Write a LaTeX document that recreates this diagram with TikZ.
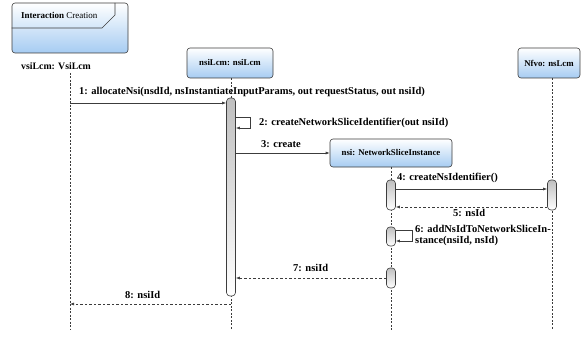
\documentclass[tikz,border=0pt]{standalone}
\usepackage{fontspec}
\setmainfont{Liberation Serif}
\usetikzlibrary{arrows.meta}
\definecolor{headblue}{RGB}{166,204,242}
\definecolor{linegray}{RGB}{60,60,60}
\tikzset{
  headbox/.style={draw=linegray, rounded corners=3pt, top color=white, bottom color=headblue,
    line width=0.6pt, inner sep=0pt, font=\fontsize{8.8}{10}\selectfont\bfseries},
  actbar/.style={draw=linegray, rounded corners=3.5pt, top color=black!25, bottom color=white,
    line width=0.6pt, minimum width=9pt, inner sep=0pt},
  lifeline/.style={draw=linegray, line width=0.7pt, dash pattern=on 2pt off 1.5pt},
  msg/.style={draw=linegray, line width=0.6pt, -{Latex[length=4pt,width=3pt]}},
  reply/.style={msg, dash pattern=on 2.5pt off 2pt},
  lbl/.style={anchor=mid west, inner sep=0pt, font=\fontsize{10.5}{11}\selectfont\bfseries},
}
\begin{document}
\begin{tikzpicture}[x=1pt, y=-1pt]
\useasboundingbox (0,0) rectangle (581,337);

% interaction frame with its name tab
\node[draw=linegray, rounded corners=3pt, top color=white, bottom color=headblue, line width=0.6pt,
  minimum width=116pt, minimum height=50pt, inner sep=0pt] (frame) at (70,28) {};
\draw[linegray, line width=0.6pt] (frame.west |- 0,28) -- (102,28) -- (115,15) -- (115,3);
\node[anchor=mid west, inner sep=0pt, font=\fontsize{9}{10}\selectfont] (fname) at (21,16)
  {\textbf{Interaction} Creation};

% lifeline heads
\node[lbl, font=\fontsize{9.8}{11}\selectfont\bfseries] (vsi) at (21,67) {vsiLcm: VsiLcm};
\coordinate (vsitop) at (70,73);
\node[headbox, minimum width=86pt, minimum height=30pt] (nsilcm) at (230,63) {nsiLcm: nsiLcm};
\node[headbox, minimum width=62pt, minimum height=30pt] (nfvo) at (549,63) {Nfvo: nsLcm};
\node[headbox, minimum width=122pt, minimum height=28pt] (nsi) at (391,153) {nsi: NetworkSliceInstance};

% lifeline ends
\coordinate (vsiend) at (70,330);
\coordinate (nsilcmend) at (231,330);
\coordinate (nsiend) at (391,330);
\coordinate (nfvoend) at (552,330);

\draw[lifeline] (vsitop) -- (vsiend);
\draw[lifeline] (nsilcm.south -| nsilcmend) -- (nsilcmend);
\draw[lifeline] (nsi.south) -- (nsiend);
\draw[lifeline] (nfvo.south -| nfvoend) -- (nfvoend);

% activation bars
\node[actbar, minimum height=198pt] (a1) at (231,197) {};
\node[actbar, minimum height=30pt] (a2) at (391,195) {};
\node[actbar, minimum height=30pt] (a5) at (552,195) {};
\node[actbar, minimum height=19pt] (a3) at (391,236.5) {};
\node[actbar, minimum height=20pt] (a4) at (391,278) {};

% message anchor points
\coordinate (m1) at (70,103);
\coordinate (m2) at (0,117);
\coordinate (m2b) at (0,128);
\coordinate (m3) at (0,153);
\coordinate (m4) at (0,189);
\coordinate (m5) at (0,207);
\coordinate (m6) at (0,230);
\coordinate (m6b) at (0,241);
\coordinate (m7) at (0,278);
\coordinate (m8) at (0,304);

% messages
\draw[msg] (m1) -- (m1 -| a1.west);
\draw[msg] (a1.east |- m2) -- ++(14,0) |- (a1.east |- m2b);
\draw[msg] (a1.east |- m3) -- (nsi.west |- m3);
\draw[msg] (a2.east |- m4) -- (a5.west |- m4);
\draw[reply] (a5.west |- m5) -- (a2.east |- m5);
\draw[msg] (a3.east |- m6) -- ++(16,0) |- (a3.east |- m6b);
\draw[reply] (a4.west |- m7) -- (a1.east |- m7);
\draw[reply] (nsilcmend |- m8) -- (vsiend |- m8);

% message labels
\node[lbl] (l1) at (79,92) {1: allocateNsi(nsdId, nsInstantiateInputParams, out requestStatus, out nsiId)};
\node[lbl] (l2) at (259,123) {2: createNetworkSliceIdentifier(out nsiId)};
\node[lbl] (l3) at (261,145) {3: create};
\node[lbl] (l4) at (397,178) {4: createNsIdentifier()};
\node[lbl] (l5) at (453,214) {5: nsId};
\node[lbl, anchor=west, align=left] (l6) at (415,235.5) {6: addNsIdToNetworkSliceIn-\\stance(nsiId, nsId)};
\node[lbl] (l7) at (293,269) {7: nsiId};
\node[lbl] (l8) at (125,296) {8: nsiId};
\end{tikzpicture}
\end{document}
